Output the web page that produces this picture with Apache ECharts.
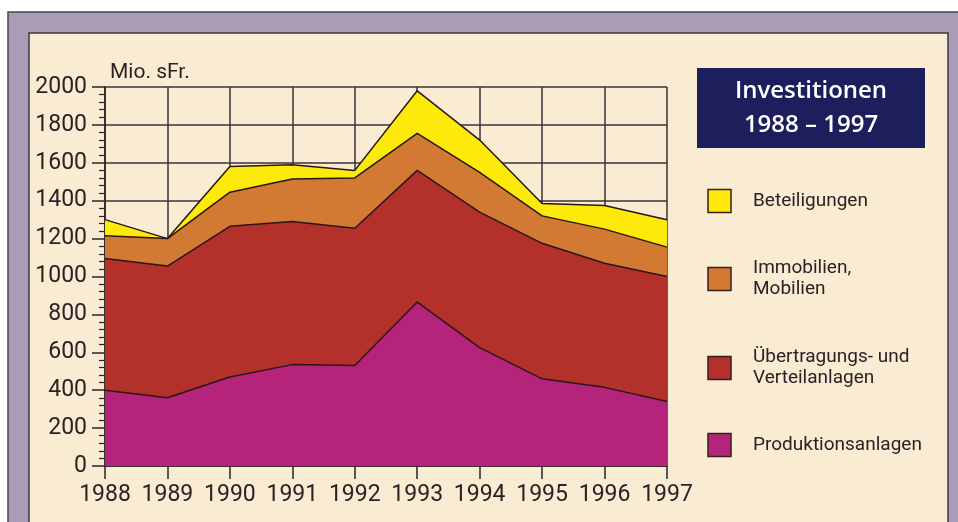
<!DOCTYPE html>
<html>
<head>
<meta charset="utf-8">
<script src="https://cdn.jsdelivr.net/npm/echarts@6/dist/echarts.min.js"></script>
<style>
  html, body { margin: 0; padding: 0; background: #fff; }
  #chart { width: 958px; height: 522px; }
</style>
</head>
<body>
<div id="chart"></div>
<script>
// Data (Mio. sFr.)
const years = ["1988", "1989", "1990", "1991", "1992", "1993", "1994", "1995", "1996", "1997"];
const produktion = [400, 360, 470, 535, 530, 865, 625, 460, 415, 340];
const uebertragung = [695, 695, 795, 755, 725, 695, 715, 715, 655, 660];
const immobilien = [120, 145, 180, 225, 265, 195, 210, 145, 180, 155];
const beteiligungen = [85, 0, 135, 75, 40, 225, 170, 65, 125, 145];

const names = ["Beteiligungen", "Immobilien,\nMobilien", "Übertragungs- und\nVerteilanlagen", "Produktionsanlagen"];
const colors = ["#fde90a", "#d27a34", "#b3302b", "#b6237a"];

const font = "'Open Sans', 'Noto Sans', sans-serif";
const narrow = "Roboto, 'Open Sans', sans-serif";
const ink = "#2b2226";

const chart = echarts.init(document.getElementById("chart"));

// legend built as graphic (rows sit at uneven heights in the original)
const legendRows = [201, 279, 368, 445];
const legendGraphic = [];
legendRows.forEach((y, i) => {
  legendGraphic.push({
    type: "rect",
    shape: { x: 708, y: y - 11.5, width: 23, height: 23 },
    style: { fill: colors[i], stroke: "#3a1e1e", lineWidth: 1.5 },
  });
  legendGraphic.push({
    type: "text",
    x: 753,
    y: y,
    style: {
      text: names[i],
      font: "19px " + narrow,
      fill: ink,
      verticalAlign: "middle",
      lineHeight: 21,
    },
  });
});

const makeSeries = (name, data, color) => ({
  name: name,
  type: "line",
  stack: "total",
  data: data,
  symbol: "none",
  lineStyle: { color: "#2a1616", width: 1.5 },
  areaStyle: { color: color, opacity: 1 },
  silent: true,
});

chart.setOption({
  animation: false,
  backgroundColor: "#ffffff",
  graphic: [
    {
      type: "rect",
      z: -10,
      shape: { x: 8, y: 12, width: 960, height: 530 },
      style: { fill: "#a89cb6", stroke: "#4a4450", lineWidth: 1.5 },
    },
    {
      type: "rect",
      z: -9,
      shape: { x: 29, y: 33, width: 919, height: 510 },
      style: { fill: "#f9ecd2", stroke: "#3d3640", lineWidth: 1.5 },
    },
    {
      type: "rect",
      shape: { x: 697, y: 68, width: 228, height: 80 },
      style: { fill: "#1d1f5c" },
    },
    {
      type: "text",
      x: 811,
      y: 108,
      style: {
        text: "Investitionen\n1988 – 1997",
        font: "600 24px " + font,
        fill: "#ffffff",
        align: "center",
        verticalAlign: "middle",
        lineHeight: 34,
      },
    },
    {
      type: "text",
      x: 110,
      y: 73,
      style: {
        text: "Mio. sFr.",
        font: "21px " + narrow,
        fill: ink,
        verticalAlign: "middle",
      },
    },
  ].concat(legendGraphic),
  grid: { left: 105, right: 291, top: 87, bottom: 56 },
  xAxis: {
    type: "category",
    data: years,
    boundaryGap: false,
    axisLine: { lineStyle: { color: ink, width: 1.5 } },
    axisTick: { show: true, interval: 0, length: 13, lineStyle: { color: ink, width: 1.5 } },
    axisLabel: { interval: 0, color: ink, fontSize: 23, fontFamily: narrow, margin: 18 },
    splitLine: { show: true, interval: 0, lineStyle: { color: "#3a3238", width: 1.5 } },
  },
  yAxis: {
    type: "value",
    min: 0,
    max: 2000,
    interval: 200,
    axisLine: { show: true, lineStyle: { color: ink, width: 1.5 } },
    axisTick: { show: true, length: 13, lineStyle: { color: ink, width: 1.5 } },
    minorTick: { show: true, splitNumber: 5, length: 6, lineStyle: { color: ink, width: 1.2 } },
    axisLabel: { color: ink, fontSize: 23, fontFamily: narrow, margin: 18, formatter: (v) => String(v) },
    splitLine: { show: true, lineStyle: { color: "#3a3238", width: 1.5 } },
  },
  series: [
    makeSeries("Produktionsanlagen", produktion, colors[3]),
    makeSeries("Übertragungs- und Verteilanlagen", uebertragung, colors[2]),
    makeSeries("Immobilien, Mobilien", immobilien, colors[1]),
    makeSeries("Beteiligungen", beteiligungen, colors[0]),
  ],
});
</script>
</body>
</html>
